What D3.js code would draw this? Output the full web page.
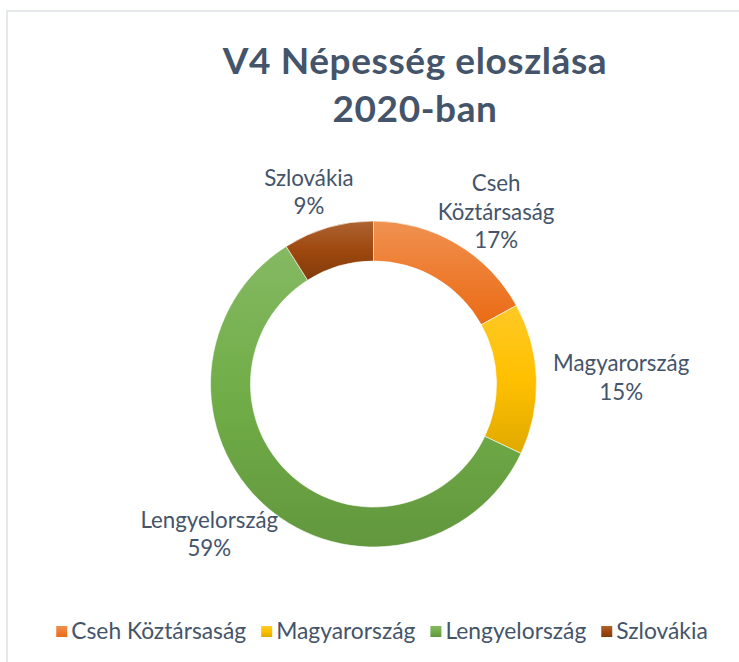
<!DOCTYPE html>
<html>
<head>
<meta charset="utf-8">
<script src="https://cdn.jsdelivr.net/npm/d3@7"></script>
<style>
  body { margin: 0; background: #fff; }
  text { font-family: Lato, "Open Sans", sans-serif; fill: #44546a; }
</style>
</head>
<body>
<svg width="739" height="662"></svg>
<script>
// data
const countries = ["Cseh Köztársaság", "Magyarország", "Lengyelország", "Szlovákia"];
const labelLines = [["Cseh", "Köztársaság"], ["Magyarország"], ["Lengyelország"], ["Szlovákia"]];
const shares = [17, 15, 59, 9];
const colors = ["#ed7d31", "#ffc000", "#70ad47", "#9e480e"];
const titleLines = ["V4 Népesség eloszlása", "2020-ban"];

const svg = d3.select("svg");
const W = 739, H = 662;

svg.append("rect").attr("width", W).attr("height", H).attr("fill", "#fff");
// chart frame (runs off the right and bottom edge)
svg.append("rect")
  .attr("x", 7).attr("y", 11).attr("width", 830).attr("height", 700)
  .attr("fill", "none").attr("stroke", "#dde1e6").attr("stroke-width", 1.5);

// title
svg.append("text")
  .attr("x", 415).attr("y", 74)
  .attr("text-anchor", "middle")
  .style("font-weight", "bold").style("font-size", "37px").style("letter-spacing", "0.6px")
  .selectAll("tspan").data(titleLines).enter().append("tspan")
  .attr("x", 415).attr("dy", (d, i) => i ? 48 : 0)
  .text(d => d);

// gradients, light on top, darker at the bottom of each slice
const defs = svg.append("defs");
colors.forEach(function(c, i) {
  const g = defs.append("linearGradient").attr("id", "grad" + i)
    .attr("x1", 0).attr("y1", 0).attr("x2", 0).attr("y2", 1);
  const dark = d3.hsl(c);
  dark.l -= 0.06;
  g.append("stop").attr("offset", "0%").attr("stop-color", d3.interpolateRgb(c, "#fff")(0.15));
  g.append("stop").attr("offset", "50%").attr("stop-color", c);
  g.append("stop").attr("offset", "100%").attr("stop-color", dark.formatHex());
});

const cx = 373.5, cy = 384, R = 163, r = 123;
const pie = d3.pie().sort(null).value(d => d);
const arcs = pie(shares);
const arc = d3.arc().innerRadius(r).outerRadius(R);

const g = svg.append("g").attr("transform", "translate(" + cx + "," + cy + ")");
g.selectAll("path").data(arcs).enter().append("path")
  .attr("d", arc)
  .attr("fill", (d, i) => "url(#grad" + i + ")")
  .attr("stroke", "#fff").attr("stroke-width", 0.6);

// data labels outside the ring
const labelArc = d3.arc().innerRadius(200).outerRadius(200);
const lineH = 28.5;
arcs.forEach(function(d, i) {
  const lines = labelLines[i].concat([shares[i] + "%"]);
  const t = g.append("text").attr("text-anchor", "middle").style("font-size", "22.3px");
  lines.forEach(function(s, j) {
    t.append("tspan").attr("x", 0).attr("dy", j ? lineH : 0).text(s);
  });
  const bb = t.node().getBBox();
  const a = (d.startAngle + d.endAngle) / 2;
  const c = labelArc.centroid(d);
  const x = c[0] + Math.sin(a) * bb.width / 2 * 0.7;
  const y = c[1] - (lines.length - 1) * lineH / 2 + 8;
  t.attr("transform", "translate(" + x + "," + y + ")");
});

// legend
const legend = svg.append("g").attr("transform", "translate(0,639)");
const items = legend.selectAll("g").data(countries).enter().append("g");
items.append("rect").attr("x", 0).attr("y", -13).attr("width", 11).attr("height", 11)
  .attr("fill", (d, i) => "url(#grad" + i + ")");
items.append("text").attr("x", 15).attr("y", 0).style("font-size", "22.8px").text(d => d);
let xpos = 0;
const offs = [];
items.each(function() {
  offs.push(xpos);
  xpos += d3.select(this).select("text").node().getComputedTextLength() + 15 + 15;
});
const total = xpos - 15;
const startX = 382 - total / 2;
items.attr("transform", (d, i) => "translate(" + (startX + offs[i]) + ",0)");
</script>
</body>
</html>
